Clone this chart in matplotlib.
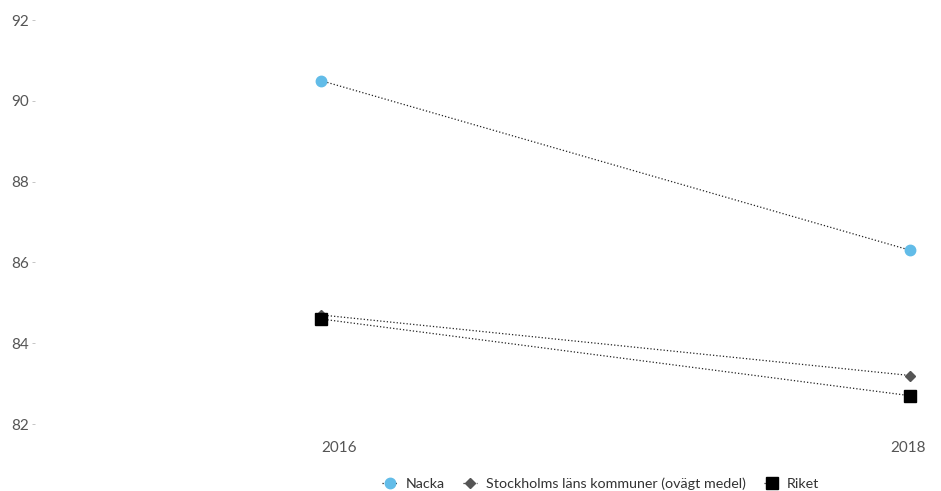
import matplotlib.pyplot as plt
from matplotlib.transforms import ScaledTranslation

years = [2016, 2018]
nacka = [90.5, 86.3]
stockholm = [84.7, 83.2]
riket = [84.6, 82.7]
yticks = [82, 84, 86, 88, 90, 92]

plt.rcParams['font.family'] = ['Lato', 'DejaVu Sans']

fig = plt.figure(figsize=(9.41, 4.91), dpi=100)
ax = fig.add_axes([35 / 941, 1 - 424 / 491, 890 / 941, 404 / 491])

ax.plot(years, nacka, ls=':', lw=0.9, color='#222222', marker='o', ms=7.5,
        mfc='#62BCE8', mec='#62BCE8', label='Nacka')
ax.plot(years, stockholm, ls=':', lw=0.9, color='#222222', marker='D', ms=5.5,
        mfc='#555555', mec='#555555', label='Stockholms läns kommuner (ovägt medel)')
ax.plot(years, riket, ls=':', lw=0.9, color='#222222', marker='s', ms=8,
        mfc='black', mec='black', label='Riket')

ax.set_xlim(2015.03, 2018.05)
ax.set_ylim(82, 92)
ax.set_yticks(yticks)
ax.set_xticks(years)
ax.set_xticklabels([str(y) for y in years])
ax.tick_params(axis='y', length=2, width=0.6, color='#bbbbbb', labelcolor='#555555',
               labelsize=11, pad=2)
ax.tick_params(axis='x', length=0, labelcolor='#555555', labelsize=11, pad=12)
xl = ax.get_xticklabels()
xl[0].set_ha('left')
xl[1].set_ha('right')
xl[1].set_transform(xl[1].get_transform() + ScaledTranslation(0.16, 0, fig.dpi_scale_trans))
for s in ax.spines.values():
    s.set_visible(False)

fig.legend(loc='center', bbox_to_anchor=(601 / 941, 1 - 484 / 491), ncol=3,
           frameon=False, fontsize=10.3, labelcolor='#333333', handlelength=1.0,
           columnspacing=1.3, handletextpad=0.6)

fig.savefig('out.png', dpi=100)
